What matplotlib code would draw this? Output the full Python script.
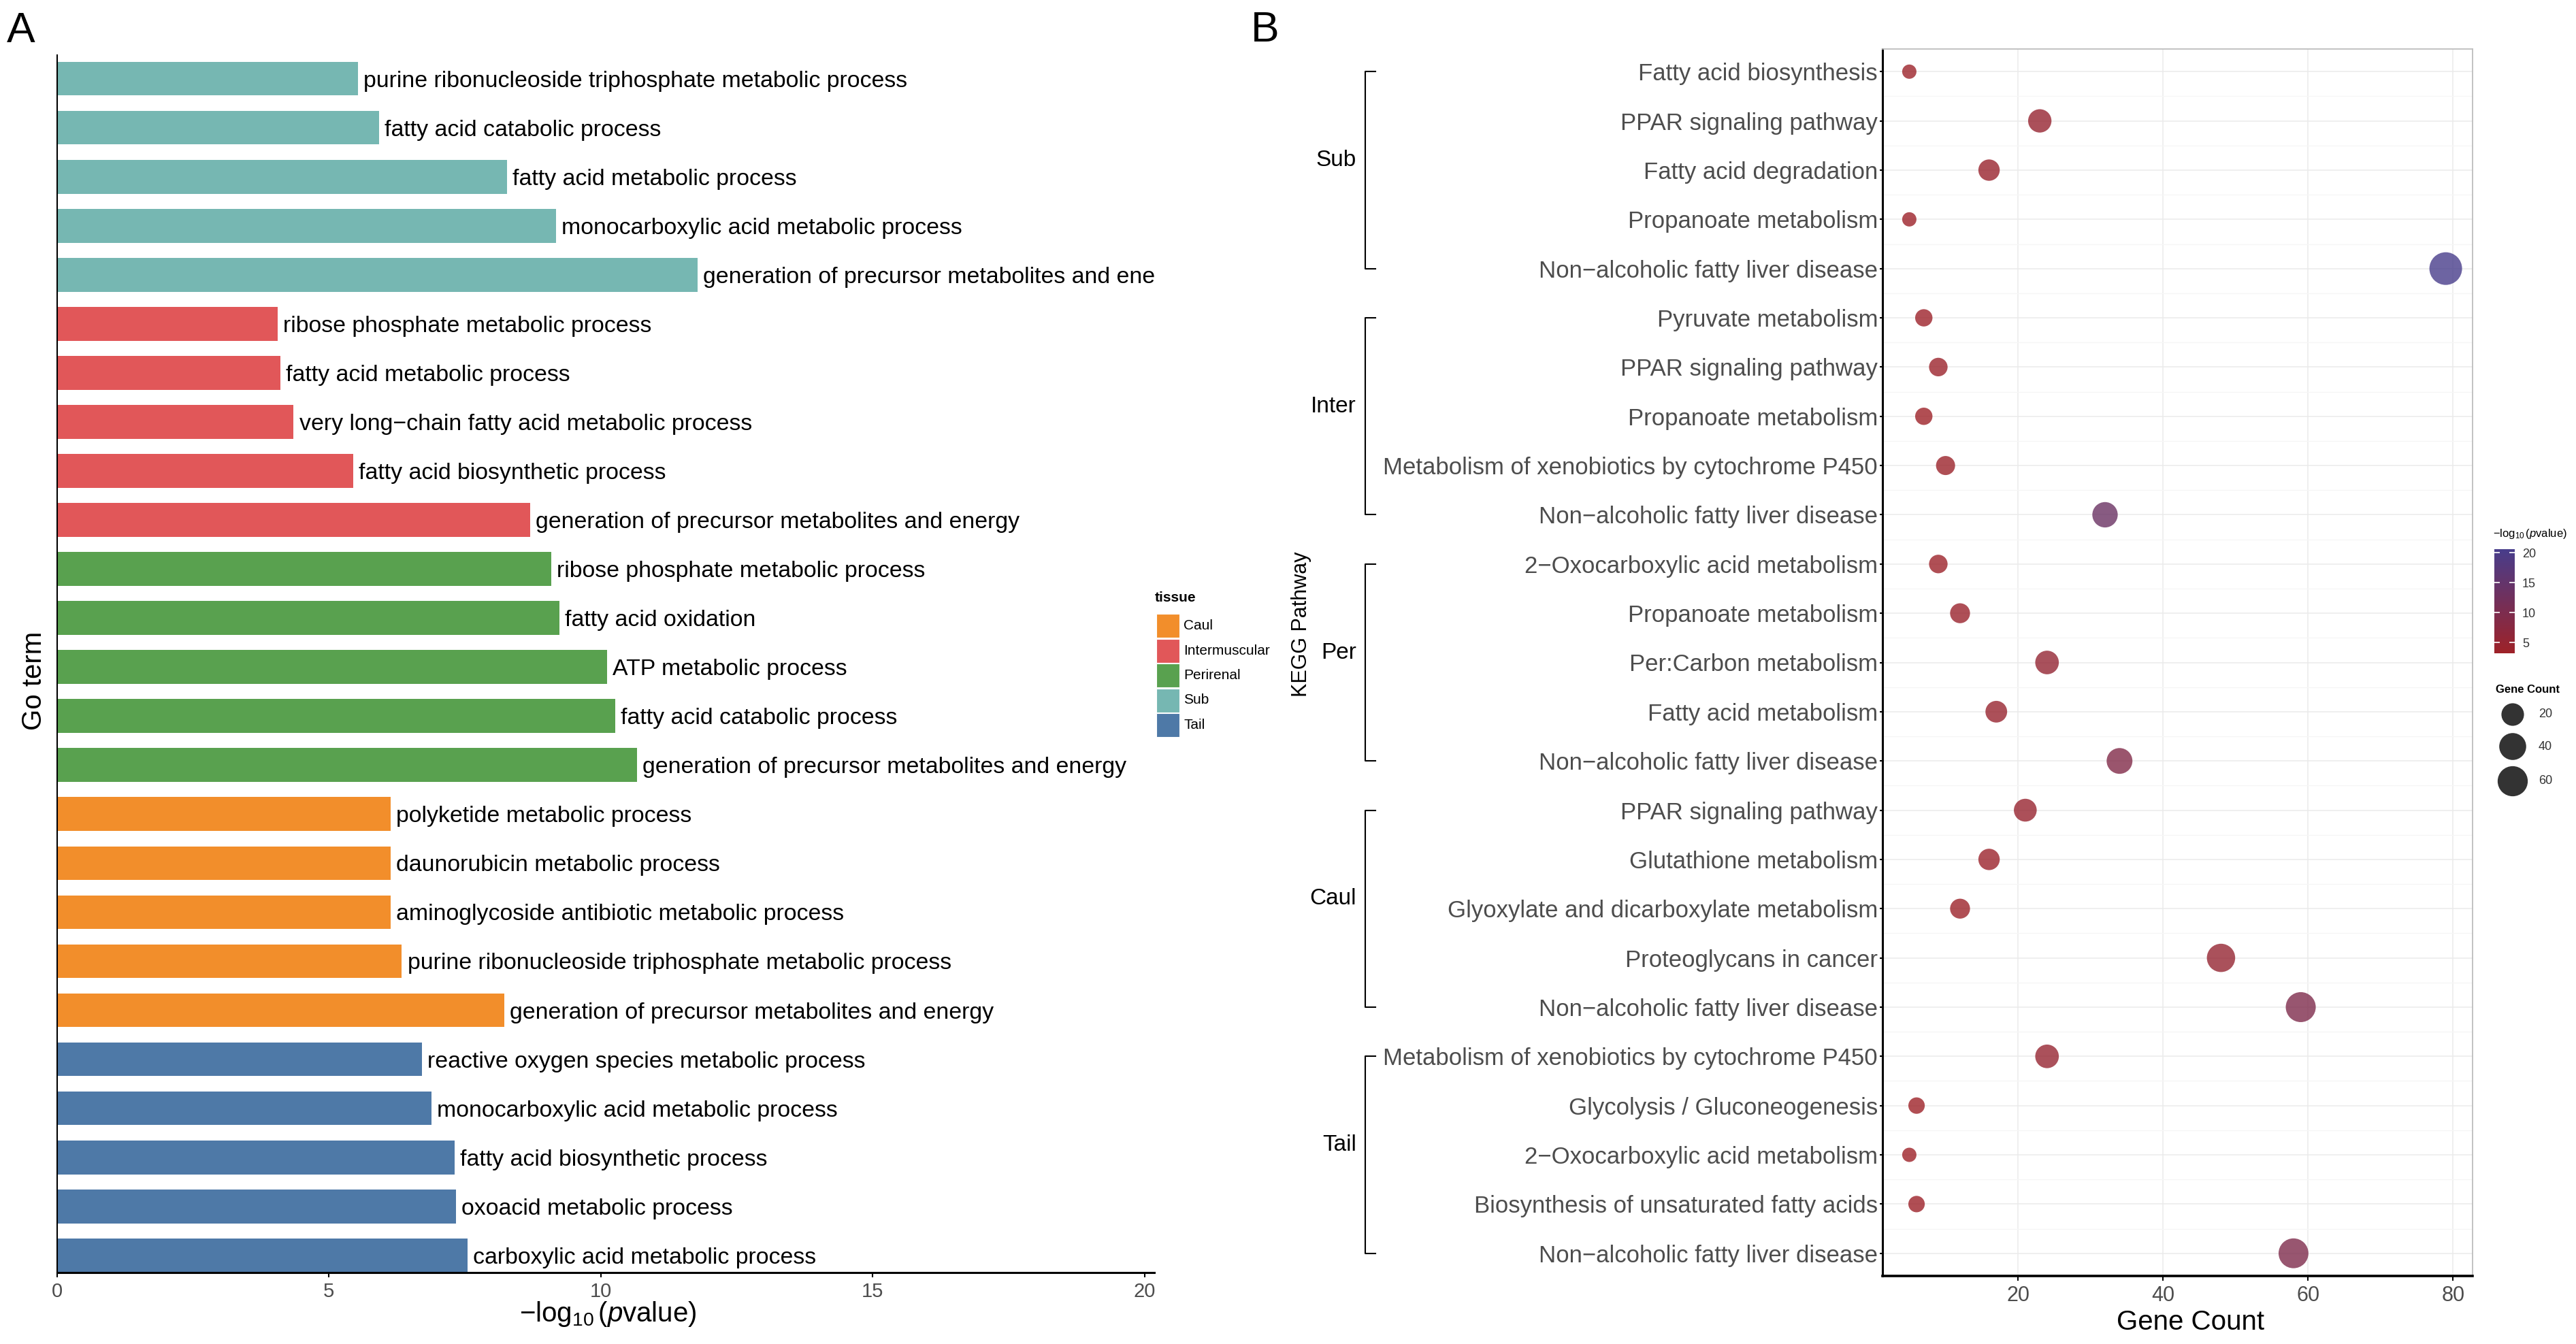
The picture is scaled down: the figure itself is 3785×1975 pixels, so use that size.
import numpy as np
import matplotlib
matplotlib.use('Agg')
import matplotlib.pyplot as plt
import matplotlib.transforms as mtransforms
from matplotlib.colors import LinearSegmentedColormap, Normalize
from matplotlib.patches import Rectangle
import matplotlib.cm as cm

plt.rcParams['font.family'] = ['Liberation Sans', 'DejaVu Sans']
plt.rcParams['mathtext.fontset'] = 'custom'
plt.rcParams['mathtext.rm'] = 'Liberation Sans'
plt.rcParams['mathtext.it'] = 'Liberation Sans:italic'
plt.rcParams['mathtext.bf'] = 'Liberation Sans:bold'

# ---------------- panel A: GO terms (top to bottom) ----------------
go_tissue = ['Sub'] * 5 + ['Intermuscular'] * 5 + ['Perirenal'] * 5 + ['Caul'] * 5 + ['Tail'] * 5
go_terms = [
    'purine ribonucleoside triphosphate metabolic process',
    'fatty acid catabolic process',
    'fatty acid metabolic process',
    'monocarboxylic acid metabolic process',
    'generation of precursor metabolites and energy',
    'ribose phosphate metabolic process',
    'fatty acid metabolic process',
    'very long\u2212chain fatty acid metabolic process',
    'fatty acid biosynthetic process',
    'generation of precursor metabolites and energy',
    'ribose phosphate metabolic process',
    'fatty acid oxidation',
    'ATP metabolic process',
    'fatty acid catabolic process',
    'generation of precursor metabolites and energy',
    'polyketide metabolic process',
    'daunorubicin metabolic process',
    'aminoglycoside antibiotic metabolic process',
    'purine ribonucleoside triphosphate metabolic process',
    'generation of precursor metabolites and energy',
    'reactive oxygen species metabolic process',
    'monocarboxylic acid metabolic process',
    'fatty acid biosynthetic process',
    'oxoacid metabolic process',
    'carboxylic acid metabolic process',
]
go_logp = [5.53, 5.92, 8.28, 9.18, 11.78,
           4.05, 4.11, 4.35, 5.44, 8.70,
           9.09, 9.24, 10.12, 10.27, 10.66,
           6.13, 6.13, 6.13, 6.34, 8.22,
           6.71, 6.89, 7.31, 7.34, 7.55]
tissue_order = ['Caul', 'Intermuscular', 'Perirenal', 'Sub', 'Tail']
tissue_colors = {'Caul': '#F28E2B', 'Intermuscular': '#E15759', 'Perirenal': '#59A14F',
                 'Sub': '#76B7B2', 'Tail': '#4E79A7'}

# ---------------- panel B: KEGG pathways (top to bottom) ----------------
kegg_groups = ['Sub', 'Inter', 'Per', 'Caul', 'Tail']
kegg_pathways = [
    'Fatty acid biosynthesis', 'PPAR signaling pathway', 'Fatty acid degradation',
    'Propanoate metabolism', 'Non\u2212alcoholic fatty liver disease',
    'Pyruvate metabolism', 'PPAR signaling pathway', 'Propanoate metabolism',
    'Metabolism of xenobiotics by cytochrome P450', 'Non\u2212alcoholic fatty liver disease',
    '2\u2212Oxocarboxylic acid metabolism', 'Propanoate metabolism', 'Per:Carbon metabolism',
    'Fatty acid metabolism', 'Non\u2212alcoholic fatty liver disease',
    'PPAR signaling pathway', 'Glutathione metabolism', 'Glyoxylate and dicarboxylate metabolism',
    'Proteoglycans in cancer', 'Non\u2212alcoholic fatty liver disease',
    'Metabolism of xenobiotics by cytochrome P450', 'Glycolysis / Gluconeogenesis',
    '2\u2212Oxocarboxylic acid metabolism', 'Biosynthesis of unsaturated fatty acids',
    'Non\u2212alcoholic fatty liver disease',
]
kegg_counts = [5, 23, 16, 5, 79,
               7, 9, 7, 10, 32,
               9, 12, 24, 17, 34,
               21, 16, 12, 48, 59,
               24, 6, 5, 6, 58]
kegg_logp = [3.6, 4.8, 4.2, 3.4, 20.6,
             3.5, 3.9, 3.3, 3.8, 13.6,
             3.7, 4.1, 5.2, 4.4, 9.0,
             4.6, 3.9, 3.6, 5.0, 9.5,
             4.9, 3.2, 3.3, 3.4, 9.6]
size_breaks = [20, 40, 60]
color_breaks = [5, 10, 15, 20]

W, H = 3785, 1975
fig = plt.figure(figsize=(W / 100, H / 100), dpi=100)


def fr(x0, y0, x1, y1):
    # pixel box (top-left origin) -> figure fraction
    return [x0 / W, 1 - y1 / H, (x1 - x0) / W, (y1 - y0) / H]


# overlay in pixel coords for free text / legends
lay = fig.add_axes([0, 0, 1, 1])
lay.set_xlim(0, W)
lay.set_ylim(H, 0)
lay.axis('off')

# ================= panel A =================
axA = fig.add_axes(fr(84, 81, 1696, 1870))
yA = np.arange(len(go_terms))
axA.barh(yA, go_logp, height=0.69, color=[tissue_colors[t] for t in go_tissue], edgecolor='none')
axA.set_ylim(len(go_terms) - 1 + 0.35, -0.48)
axA.set_xlim(0, 20.18)
axA.set_xticks([0, 5, 10, 15, 20])
axA.set_yticks([])
for s in ['top', 'right']:
    axA.spines[s].set_visible(False)
axA.spines['left'].set_linewidth(1.5)
axA.spines['bottom'].set_linewidth(2.2)
axA.tick_params(axis='x', length=5, width=1.5, labelsize=21, labelcolor='#4D4D4D', pad=5)

lab_tr = mtransforms.offset_copy(axA.transData, fig=fig, x=5.8, y=-2.5, units='points')
for i, (term, v) in enumerate(zip(go_terms, go_logp)):
    axA.text(v, i, term, transform=lab_tr, ha='left', va='center', fontsize=24.4, clip_on=True)

# legend A
lay.text(1697, 879, 'tissue', fontsize=15, fontweight='bold', ha='left', va='center')
for k, t in enumerate(tissue_order):
    top = 902 + k * 36.5
    lay.add_patch(Rectangle((1699, top), 34, 35, facecolor=tissue_colors[t], edgecolor='white', lw=0.8))
    lay.text(1739, top + 17.5, t, fontsize=15, ha='left', va='center')

lay.text(50, 1000, 'Go term', fontsize=29, rotation=90, ha='center', va='center')
lay.text(893, 1931, r'$-\log_{10}(\mathit{p}\mathrm{value})$', fontsize=29, ha='center', va='center')
lay.text(10, 62, 'A', fontsize=45, ha='left', va='baseline')

# ================= panel B =================
axB = fig.add_axes(fr(2766, 72, 3633, 1875))
yB = np.arange(len(kegg_pathways))
cmin, cmax = min(kegg_counts), max(kegg_counts)


def dot_size(c):
    d_px = 21 + 27 * np.sqrt((np.asarray(c, float) - cmin) / (cmax - cmin))
    return (d_px * 72 / 100) ** 2


cmap = LinearSegmentedColormap.from_list('pv', ['#9E2228', '#483D8B'])
norm = Normalize(min(kegg_logp), max(kegg_logp))
axB.scatter(kegg_counts, yB, s=dot_size(kegg_counts), c=kegg_logp, cmap=cmap, norm=norm,
            alpha=0.8, linewidths=0, zorder=3)
rng = cmax - cmin
axB.set_xlim(cmin - 0.05 * rng, cmax + 0.05 * rng)
axB.set_ylim(len(kegg_pathways) - 1 + 0.46, -0.46)
axB.set_xticks([20, 40, 60, 80])
axB.set_yticks(yB)
axB.set_yticklabels(kegg_pathways)
axB.set_yticks(np.arange(0.5, len(kegg_pathways) - 1, 1), minor=True)
axB.set_axisbelow(True)
axB.grid(True, which='major', color='#EBEBEB', linewidth=1.1)
axB.grid(True, which='minor', axis='y', color='#F6F6F6', linewidth=1.0)
axB.tick_params(axis='y', which='minor', length=0)
axB.tick_params(axis='y', which='major', length=3, width=1.5, labelsize=25, labelcolor='#4D4D4D', pad=2)
axB.tick_params(axis='x', length=5, width=1.5, labelsize=22, labelcolor='#4D4D4D', pad=5)
axB.spines['left'].set_linewidth(2.2)
axB.spines['bottom'].set_linewidth(2.6)
for s in ['top', 'right']:
    axB.spines[s].set_color('#BDBDBD')
    axB.spines[s].set_linewidth(1.3)

# group brackets
ytr = axB.get_yaxis_transform()
aw = 3633 - 2766
xb, xt, xl = (2006 - 2766) / aw, (2021 - 2766) / aw, (1993 - 2766) / aw
for g, name in enumerate(kegg_groups):
    r0, r1 = g * 5, g * 5 + 4
    axB.plot([xt, xb, xb, xt], [r0, r0, r1, r1], transform=ytr, clip_on=False, color='black', lw=1.5)
    axB.text(xl, (r0 + r1) / 2 - 0.2, name, transform=ytr, ha='right', va='center', fontsize=24)

lay.text(1912, 917, 'KEGG Pathway', fontsize=22, rotation=90, ha='center', va='center')
lay.text(3218, 1943, 'Gene Count', fontsize=29, ha='center', va='center')
lay.text(1838, 61, 'B', fontsize=45, ha='left', va='baseline')

# colour bar legend
lay.text(3663, 785, r'$-\log_{10}(\mathit{p}\mathrm{value})$', fontsize=12, ha='left', va='center')
cax = fig.add_axes(fr(3665, 807, 3695, 960))
sm = cm.ScalarMappable(norm=norm, cmap=cmap)
cb = fig.colorbar(sm, cax=cax)
cb.set_ticks(color_breaks)
cb.outline.set_visible(False)
cax.tick_params(labelsize=13, labelcolor='#333333', length=6, width=1.2, color='white',
                direction='in', left=True, right=True, pad=8)

# size legend
lay.text(3667, 1013, 'Gene Count', fontsize=12, fontweight='bold', ha='left', va='center')
leg_y = [1050, 1097, 1148]
lay.scatter([3692] * len(size_breaks), leg_y, s=dot_size(size_breaks), color='#333333', linewidths=0)
for b, yy in zip(size_breaks, leg_y):
    lay.text(3730, yy, str(b), fontsize=13, color='#333333', ha='left', va='center')

plt.savefig('out.png', dpi=100)
plt.close(fig)
